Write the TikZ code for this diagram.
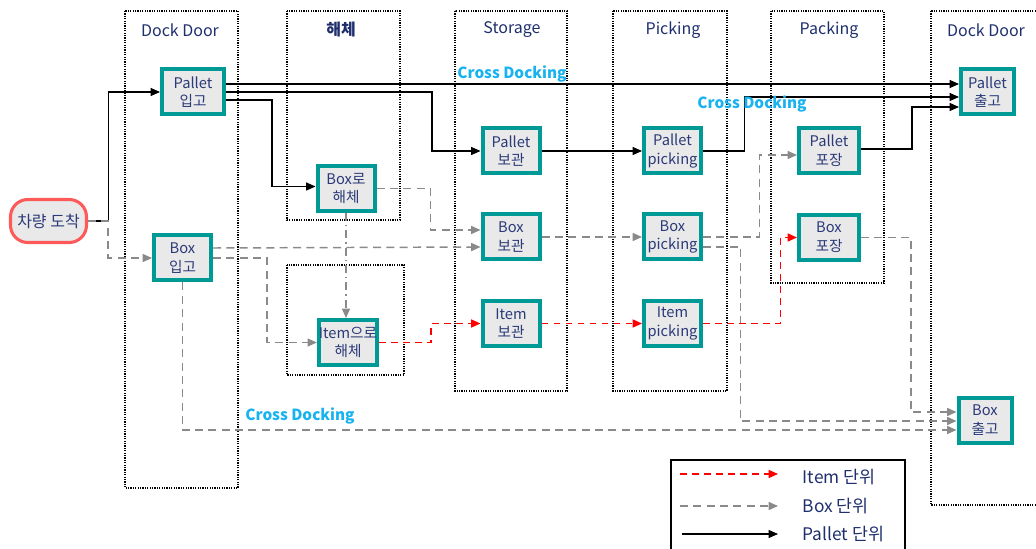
\documentclass[tikz,border=0pt]{standalone}
\usepackage{fontspec}
\setmainfont{Noto Sans CJK KR}
\usetikzlibrary{arrows.meta,calc}
\definecolor{tealb}{HTML}{009A96}
\definecolor{navy}{HTML}{1F2F6E}
\definecolor{nodetxt}{HTML}{2B3A78}
\definecolor{cdblue}{HTML}{17B2F0}
\definecolor{lgray}{HTML}{8A8A8A}
\definecolor{boxfill}{HTML}{E9E9E9}
\definecolor{carred}{HTML}{FF5A5A}
\begin{document}
\begin{tikzpicture}[x=0.75pt,y=-0.75pt,
  proc/.style={draw=tealb,line width=3pt,fill=boxfill,minimum width=42.75pt,minimum height=33.75pt,inner sep=0pt,align=center,font=\fontsize{11}{14}\selectfont,text=nodetxt},
  lane/.style={draw=black,line width=1.1pt,dash pattern=on 0.9pt off 0.9pt},
  title/.style={font=\fontsize{12}{14}\selectfont,text=navy},
  tip/.style={-{Triangle[length=7pt,width=6pt]}},
  pal/.style={draw=black,line width=0.8pt,tip},
  boxf/.style={draw=lgray,line width=1.1pt,dash pattern=on 6pt off 4pt,tip},
  boxdd/.style={draw=lgray,line width=1.1pt,dash pattern=on 6pt off 3pt on 1pt off 3pt,tip},
  itemf/.style={draw=red,line width=1.1pt,dash pattern=on 5pt off 4pt,tip},
  cd/.style={font=\bfseries\fontsize{11.5}{13}\selectfont,text=cdblue},
  legtxt/.style={anchor=west,font=\fontsize{13}{15}\selectfont,text=navy},
]
\useasboundingbox (0,0) rectangle (1036,549);
\clip (0,0) rectangle (1036,549);

% lanes
\draw[lane] (125,11) rectangle (238,488);
\draw[lane] (287,11) rectangle (400,220);
\draw[lane] (287,265) rectangle (404,375);
\draw[lane] (455,11) rectangle (567,391);
\draw[lane] (613,11) rectangle (727,391);
\draw[lane] (771,11) rectangle (884,283);
\draw[lane] (931,11) rectangle (1045,505);

% titles
\node[title] (t1) at (180,30) {Dock Door};
\node[title,font=\bfseries\fontsize{12}{14}\selectfont] (t2) at (341,30) {해체};
\node[title] (t3) at (512,30) {Storage};
\node[title] (t4) at (673,30) {Picking};
\node[title] (t5) at (829,30) {Packing};
\node[title] (t6) at (986,30) {Dock Door};

% nodes
\node[draw=carred,line width=2.3pt,fill=boxfill,rounded corners=13pt,minimum width=57pt,minimum height=32.25pt,inner sep=0pt,font=\fontsize{12}{14}\selectfont,text=nodetxt] (car) at (48.5,221) {차량 도착};
\node[proc,minimum width=46.5pt] (pin) at (193,92) {Pallet\\입고};
\node[proc] (bin) at (182.5,258) {Box\\입고};
\node[proc] (bx) at (346,188.5) {Box로\\해체};
\node[proc,minimum width=43.5pt] (ix) at (348,342.5) {Item으로\\해체};
\node[proc] (pst) at (511,151) {Pallet\\보관};
\node[proc] (bst) at (511,237) {Box\\보관};
\node[proc] (ist) at (511,323.5) {Item\\보관};
\node[proc] (ppk) at (672.5,151) {Pallet\\picking};
\node[proc] (bpk) at (672.5,237) {Box\\picking};
\node[proc] (ipk) at (672.5,323.5) {Item\\picking};
\node[proc,minimum width=45pt] (ppo) at (829,151) {Pallet\\포장};
\node[proc,minimum width=45pt] (bpo) at (829,237.5) {Box\\포장};
\node[proc,minimum width=39.75pt] (pout) at (987.5,92) {Pallet\\출고};
\node[proc,minimum width=39.75pt] (bout) at (985,420) {Box\\출고};

% pallet flows
\draw[pal] (car.east) -- ++(20,0) |- (pin.west);
\draw[pal] ($(pin.east)+(0,-8)$) -- ($(pout.west)+(0,-8)$);
\draw[pal] (pin.east) -- ++(206,0) |- (pst.west);
\draw[pal] ($(pin.east)+(0,8)$) -- ++(46,0) |- ($(bx.west)+(0,-2)$);
\draw[pal] (pst.east) -- (ppk.west);
\draw[pal] (ppk.east) -- ++(41.5,0) |- ($(pout.west)+(0,5)$);
\draw[pal] ($(ppo.east)+(0,-2)$) -- ++(51,0) |- ($(pout.west)+(0,15)$);

% box flows
\draw[boxf] (car.east) -- ++(20,0) |- (bin.west);
\draw[boxf] ($(bin.east)+(0,-10)$) -- ($(bst.west)+(0,10)$);
\draw[boxf] (bin.east) -- ++(54,0) |- (ix.west);
\draw[boxf] (bin.south) |- ($(bout.west)+(0,10)$);
\draw[boxf] (bx.east) -- ++(54,0) |- ($(bst.west)+(0,-7)$);
\draw[boxdd] (bx.south) -- (bx.south |- ix.north);
\draw[boxf] (bst.east) -- (bpk.west);
\draw[boxf] (bpk.east) -- ++(56.5,0) |- ($(ppo.west)+(0,4)$);
\draw[boxf] ($(bpk.east)+(0,10)$) -- ++(37.5,0) |- ($(bout.west)+(0,1)$);
\draw[boxf] (bpo.east) -- ++(50,0) |- ($(bout.west)+(0,-8)$);

% item flows
\draw[itemf] (ix.east) -- ++(52,0) |- (ist.west);
\draw[itemf] (ist.east) -- (ipk.west);
\draw[itemf] (ipk.east) -- ++(77.5,0) |- (bpo.west);

% cross docking labels
\node[cd] (cd1) at (512,74) {Cross Docking};
\node[cd] (cd2) at (752,104) {Cross Docking};
\node[cd] (cd3) at (300,416) {Cross Docking};

% legend
\draw[black,line width=1.6pt] (671,460) rectangle (905,570);
\coordinate (l1a) at (680,474); \coordinate (l1b) at (778,474);
\coordinate (l2a) at (680,506); \coordinate (l2b) at (778,506);
\coordinate (l3a) at (682,534); \coordinate (l3b) at (778,534);
\draw[itemf] (l1a) -- (l1b);
\draw[boxf] (l2a) -- (l2b);
\draw[pal] (l3a) -- (l3b);
\node[legtxt] (lt1) at (798,477) {Item 단위};
\node[legtxt] (lt2) at (798,506) {Box 단위};
\node[legtxt] (lt3) at (798,534) {Pallet 단위};
\end{tikzpicture}
\end{document}
